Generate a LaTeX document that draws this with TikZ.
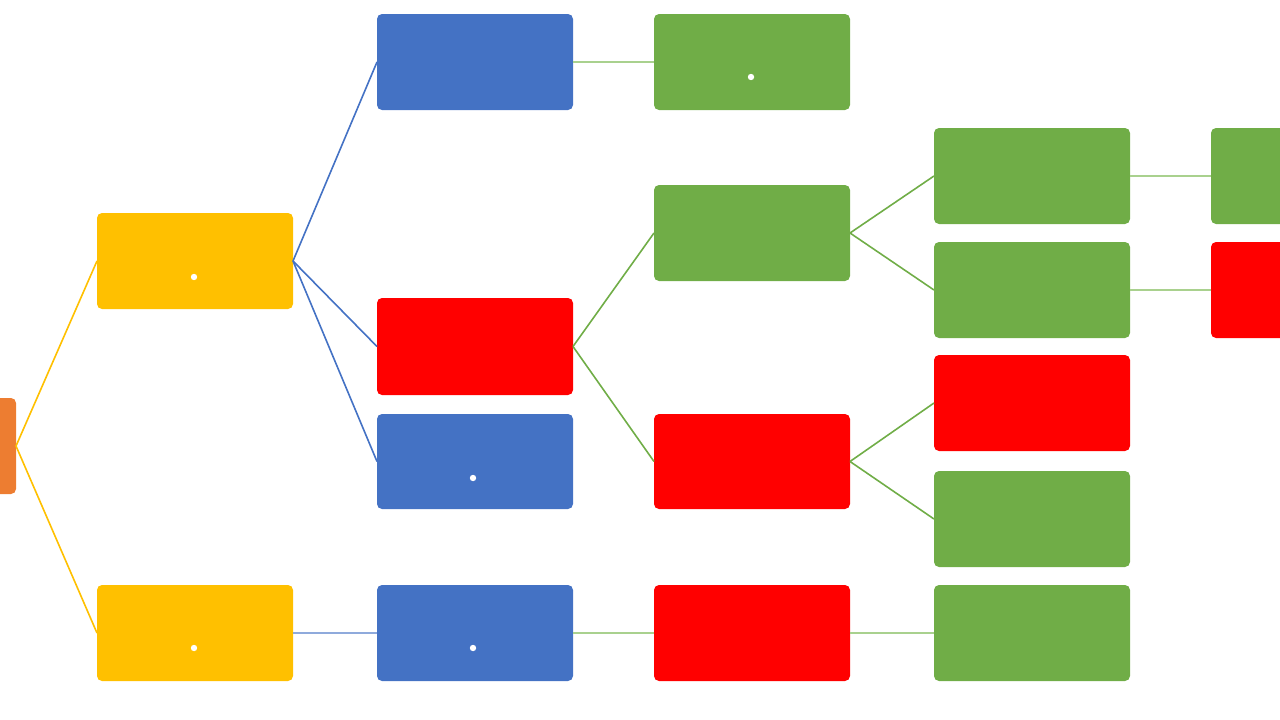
\documentclass[tikz,border=0pt]{standalone}
\definecolor{cor}{HTML}{ED7D31}
\definecolor{cye}{HTML}{FFC000}
\definecolor{cbl}{HTML}{4472C4}
\definecolor{cre}{HTML}{FF0000}
\definecolor{cgr}{HTML}{70AD47}
\definecolor{lgr}{HTML}{A9D18E}
\definecolor{lbl}{HTML}{8FAADC}
\begin{document}
\begin{tikzpicture}[x=1pt,y=-1pt,
  box/.style={rounded corners=5pt,draw=none},
  wdot/.style={fill=white,draw=none},
  ln/.style={line width=1.6pt}]
\useasboundingbox (0,0) rectangle (1280,720);
\clip (0,0) rectangle (1280,720);
\newcommand{\bx}[6]{\fill[box,#6] (#2,#4) rectangle (#3,#5); \coordinate (#1L) at (#2,{(#4+#5)/2}); \coordinate (#1R) at (#3,{(#4+#5)/2});}
\bx{o}{-20}{16}{398}{494}{cor}
\bx{ya}{97}{293}{213}{309}{cye}
\bx{yb}{97}{293}{585}{681}{cye}
\bx{ba}{377}{573}{14}{110}{cbl}
\bx{ra}{377}{573}{298}{395}{cre}
\bx{bb}{377}{573}{414}{509}{cbl}
\bx{bc}{377}{573}{585}{681}{cbl}
\bx{ga}{654}{850}{14}{110}{cgr}
\bx{gb}{654}{850}{185}{281}{cgr}
\bx{rb}{654}{850}{414}{509}{cre}
\bx{rc}{654}{850}{585}{681}{cre}
\bx{ca}{934}{1130}{128}{224}{cgr}
\bx{cb}{934}{1130}{242}{338}{cgr}
\bx{cc}{934}{1130}{355}{451}{cre}
\bx{cd}{934}{1130}{471}{567}{cgr}
\bx{ce}{934}{1130}{585}{681}{cgr}
\bx{da}{1211}{1300}{128}{224}{cgr}
\bx{db}{1211}{1300}{242}{338}{cre}
\foreach \p in {(194,277),(194,648),(473,478),(473,648),(751,77)} \fill[wdot] \p circle (3.2);
\draw[ln,cye] (oR) -- (yaL); \draw[ln,cye] (oR) -- (ybL);
\draw[ln,cbl] (yaR) -- (baL); \draw[ln,cbl] (yaR) -- (raL); \draw[ln,cbl] (yaR) -- (bbL);
\draw[ln,lgr] (baR) -- (gaL);
\draw[ln,cgr] (raR) -- (gbL); \draw[ln,cgr] (raR) -- (rbL);
\draw[ln,cgr] (gbR) -- (caL); \draw[ln,cgr] (gbR) -- (cbL);
\draw[ln,cgr] (rbR) -- (ccL); \draw[ln,cgr] (rbR) -- (cdL);
\draw[ln,lbl] (ybR) -- (bcL);
\draw[ln,lgr] (bcR) -- (rcL); \draw[ln,lgr] (rcR) -- (ceL);
\draw[ln,lgr] (caR) -- (daL); \draw[ln,lgr] (cbR) -- (dbL);
\end{tikzpicture}
\end{document}
